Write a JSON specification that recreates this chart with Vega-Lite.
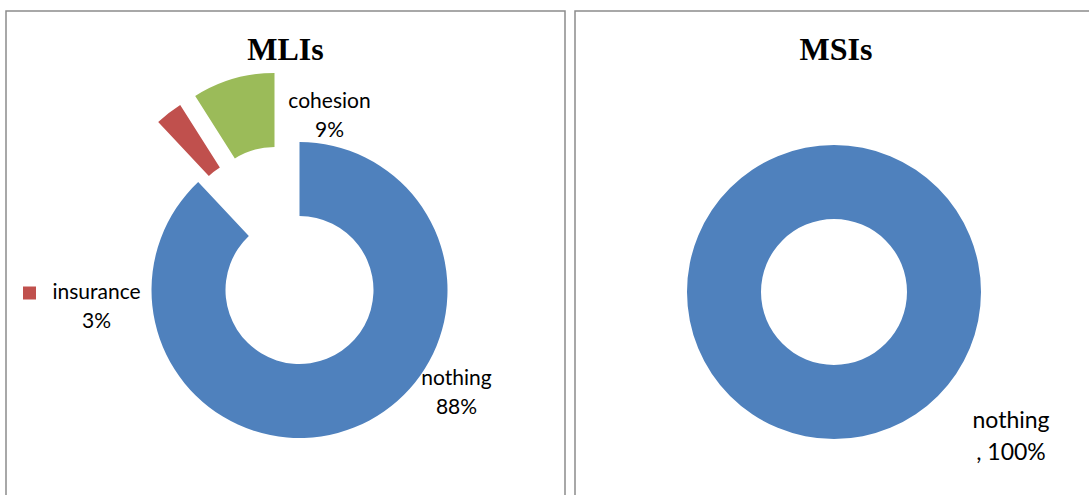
{
  "$schema": "https://vega.github.io/schema/vega-lite/v6.json",
  "padding": {"left": 5, "top": 10, "right": 0, "bottom": 0},
  "background": "white",
  "config": {
    "view": {"stroke": "#8c8c8c", "strokeWidth": 1.5},
    "title": {"font": "Liberation Serif", "fontSize": 32, "fontWeight": "bold", "color": "#000000", "offset": -56, "baseline": "alphabetic", "anchor": "middle"},
    "text": {"font": "Lato", "color": "#000000", "align": "center", "baseline": "alphabetic", "lineBreak": "\n"}
  },
  "datasets": {
    "mli": [
      {"category": "nothing", "value": 88, "label": "nothing\n88%"},
      {"category": "insurance", "value": 3, "label": "insurance\n3%"},
      {"category": "cohesion", "value": 9, "label": "cohesion\n9%"}
    ],
    "msi": [
      {"category": "nothing", "value": 100, "label": "nothing\n, 100%"}
    ]
  },
  "spacing": 8,
  "hconcat": [
    {
      "width": 559,
      "height": 490,
      "view": {"stroke": "#8c8c8c", "strokeWidth": 1.5},
      "title": "MLIs",
      "data": {"name": "mli"},
      "transform": [
        {"stack": "value", "groupby": [], "sort": [{"field": "category", "order": "descending"}], "as": ["v0", "v1"]}
      ],
      "encoding": {
        "theta": {"field": "v0", "type": "quantitative", "scale": {"domain": [0, 100]}},
        "theta2": {"field": "v1"},
        "color": {"field": "category", "type": "nominal", "legend": null, "scale": {"domain": ["nothing", "insurance", "cohesion"], "range": ["#4F81BD", "#C0504D", "#9BBB59"]}}
      },
      "layer": [
        {"transform": [{"filter": "datum.category === 'nothing'"}], "mark": {"type": "arc", "outerRadius": 148, "innerRadius": 74, "xOffset": 14, "yOffset": 34}},
        {"transform": [{"filter": "datum.category === 'insurance'"}], "mark": {"type": "arc", "outerRadius": 148, "innerRadius": 74, "xOffset": -26, "yOffset": -26}},
        {"transform": [{"filter": "datum.category === 'cohesion'"}], "mark": {"type": "arc", "outerRadius": 148, "innerRadius": 74, "xOffset": -11, "yOffset": -35}},
        {"transform": [{"filter": "datum.category === 'insurance'"}], "mark": {"type": "point", "shape": "square", "filled": true, "size": 169, "opacity": 1, "xOffset": -256, "yOffset": 37}, "encoding": {"theta": null, "theta2": null, "color": {"field": "category", "type": "nominal", "legend": null}}},
        {"transform": [{"filter": "datum.category === 'cohesion'"}], "mark": {"type": "text", "fontSize": 21, "lineHeight": 29, "xOffset": 44, "yOffset": -148}, "encoding": {"theta": null, "theta2": null, "color": {"value": "#000000"}, "text": {"field": "label"}}},
        {"transform": [{"filter": "datum.category === 'insurance'"}], "mark": {"type": "text", "fontSize": 21, "lineHeight": 29, "xOffset": -189, "yOffset": 43}, "encoding": {"theta": null, "theta2": null, "color": {"value": "#000000"}, "text": {"field": "label"}}},
        {"transform": [{"filter": "datum.category === 'nothing'"}], "mark": {"type": "text", "fontSize": 21, "lineHeight": 29, "xOffset": 171, "yOffset": 129}, "encoding": {"theta": null, "theta2": null, "color": {"value": "#000000"}, "text": {"field": "label"}}}
      ]
    },
    {
      "width": 522,
      "height": 490,
      "view": {"stroke": "#8c8c8c", "strokeWidth": 1.5},
      "title": "MSIs",
      "data": {"name": "msi"},
      "layer": [
        {"mark": {"type": "arc", "outerRadius": 147, "innerRadius": 73, "xOffset": -2, "yOffset": 36},
         "encoding": {
           "theta": {"field": "value", "type": "quantitative", "stack": true},
           "color": {"field": "category", "type": "nominal", "legend": null, "scale": {"domain": ["nothing"], "range": ["#4F81BD"]}}
         }},
        {"mark": {"type": "text", "fontSize": 23, "lineHeight": 32, "xOffset": 175, "yOffset": 172},
         "encoding": {"text": {"field": "label"}}}
      ]
    }
  ]
}
